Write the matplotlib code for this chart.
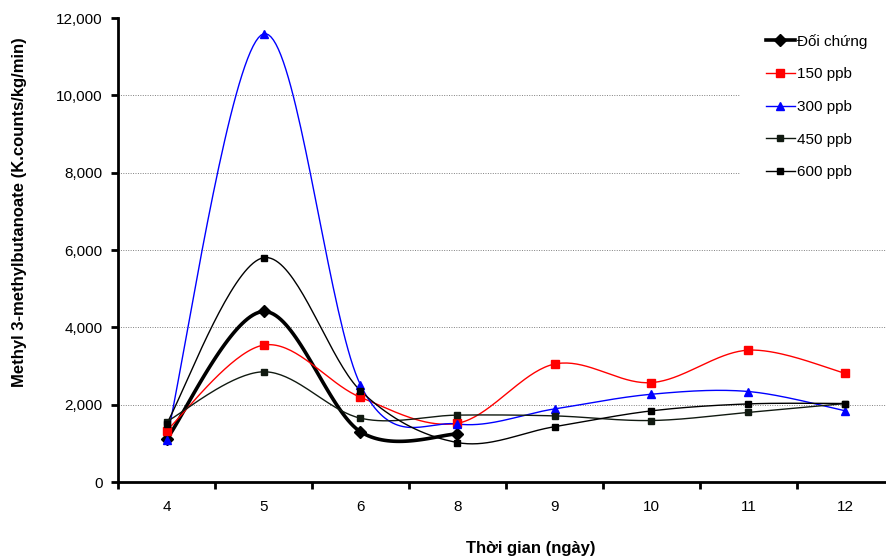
import numpy as np
import matplotlib.pyplot as plt
from matplotlib.ticker import FuncFormatter
from matplotlib.lines import Line2D
from matplotlib.patches import Rectangle

plt.rcParams['font.family'] = ['Liberation Sans', 'DejaVu Sans']

# Data
days = ['4', '5', '6', '8', '9', '10', '11', '12']
doi_chung = [1100, 4410, 1300, 1240]  # only up to day 8
ppb150 = [1330, 3540, 2190, 1520, 3050, 2570, 3410, 2810]
ppb300 = [1090, 11590, 2510, 1500, 1890, 2270, 2340, 1840]
ppb450 = [1560, 2850, 1650, 1730, 1710, 1590, 1800, 2030]
ppb600 = [1500, 5800, 2360, 1020, 1430, 1840, 2020, 2030]


def smooth(xs, ys, n=40):
    # Excel-like smoothed line (Catmull-Rom as cubic Bezier)
    pts = np.column_stack([xs, ys]).astype(float)
    p = np.vstack([pts[0], pts, pts[-1]])
    out = []
    t = np.linspace(0, 1, n)[:, None]
    for i in range(1, len(p) - 2):
        p0, p1, p2, p3 = p[i - 1], p[i], p[i + 1], p[i + 2]
        c1 = p1 + (p2 - p0) / 6
        c2 = p2 - (p3 - p1) / 6
        seg = ((1 - t) ** 3) * p1 + 3 * ((1 - t) ** 2) * t * c1 + 3 * (1 - t) * t ** 2 * c2 + t ** 3 * p2
        out.append(seg if i == 1 else seg[1:])
    out = np.vstack(out)
    return out[:, 0], out[:, 1]


fig = plt.figure(figsize=(8.86, 5.57), dpi=100)
ax = fig.add_axes([118 / 886, 1 - 482 / 557, 776 / 886, 464 / 557])

series = [
    ('Đối chứng', doi_chung, 'black', 'D', 2.6, 6),
    ('150 ppb', ppb150, '#ff0000', 's', 1.0, 5.5),
    ('300 ppb', ppb300, '#0000ff', '^', 1.0, 5.5),
    ('450 ppb', ppb450, '#111a11', 's', 1.0, 5),
    ('600 ppb', ppb600, 'black', 's', 1.0, 5),
]

handles = []
for label, vals, color, marker, lw, ms in series:
    xs = np.arange(1, len(vals) + 1)
    sx, sy = smooth(xs, vals)
    ax.plot(sx, sy, color=color, lw=lw, zorder=3)
    ax.plot(xs, vals, linestyle='none', marker=marker, color=color,
            markersize=ms, zorder=4)
    handles.append(Line2D([], [], color=color, lw=lw, marker=marker, markersize=ms))

ax.set_xlim(0.5, 8.5)
ax.set_ylim(0, 12000)
ax.set_yticks(np.arange(0, 12001, 2000))
ax.yaxis.set_major_formatter(FuncFormatter(lambda v, p: f'{int(v):,}'))
ax.set_xticks(np.arange(1, 9))
ax.set_xticklabels(days)
ax.set_xticks(np.arange(0.5, 9, 1), minor=True)
ax.tick_params(axis='x', which='major', length=0, pad=13, labelsize=11)
ax.tick_params(axis='x', which='minor', length=5, width=2, direction='out')
ax.tick_params(axis='y', length=5, width=2, direction='out', labelsize=11, pad=6)

ax.grid(axis='y', color='gray', linestyle=(0, (1, 1.5)), linewidth=0.7)
ax.set_axisbelow(True)
ax.yaxis.get_gridlines()[-1].set_visible(False)
for s in ['top', 'right']:
    ax.spines[s].set_visible(False)
for s in ['left', 'bottom']:
    ax.spines[s].set_linewidth(2)

# white legend area that hides the grid behind it
ax.add_patch(Rectangle((740 / 886, 1 - 190 / 557), 0.3, 170 / 557,
                       transform=fig.transFigure, facecolor='white',
                       edgecolor='none', zorder=1))

ax.set_ylabel('Methyl 3-methylbutanoate (K.counts/kg/min)', fontsize=12,
              fontweight='bold')
ax.yaxis.set_label_coords(-0.117, 0.582)
ax.set_xlabel('Thời gian (ngày)', fontsize=12, fontweight='bold')
ax.xaxis.set_label_coords(0.532, -0.127)

fig.legend(handles, [s[0] for s in series], loc='upper left',
           bbox_to_anchor=(752 / 886, 1 - 20 / 557), fontsize=11,
           frameon=False, handlelength=1.9, handletextpad=0.15,
           labelspacing=1.22)

fig.savefig('out.png', dpi=100)
